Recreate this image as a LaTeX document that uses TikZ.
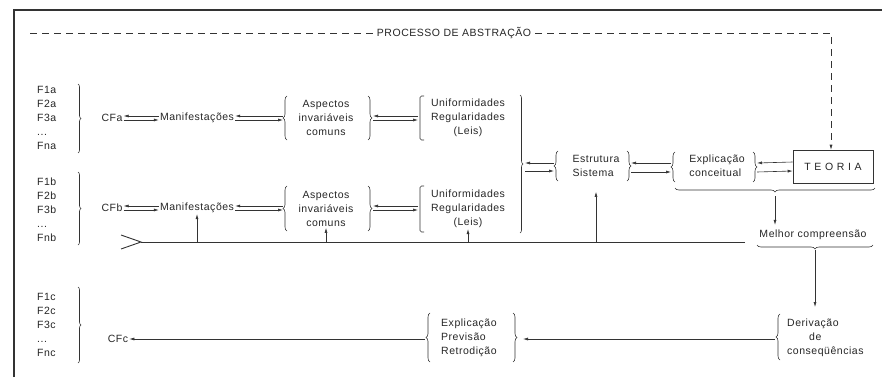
\documentclass[tikz,border=0pt]{standalone}
\usepackage{fontspec}
\setmainfont{Liberation Sans}
\newfontfamily\diagfont[LetterSpace=5]{Liberation Sans}
\newfontfamily\wideface[LetterSpace=35]{Liberation Sans}
\usetikzlibrary{arrows.meta,decorations.pathreplacing}

\tikzset{
  txt/.style={font={\diagfont\fontsize{10.5}{14}\selectfont}, text=black!85, inner sep=1pt},
  ln/.style={draw=black!80, line width=0.6pt},
  arr/.style={ln, -{Latex[length=5pt,width=3pt]}},
  brc/.style={ln, decorate, decoration={brace, amplitude=#1}},
  brc/.default=4pt,
  sqbr/.style={ln, rounded corners=1.5pt},
  abstr/.style={ln, dash pattern=on 7pt off 5pt},
}

\begin{document}
\begin{tikzpicture}[x=1pt,y=-1pt]
\useasboundingbox (0,0) rectangle (882,377);

% page frame (top and left edges)
\draw[ln, line width=1.2pt] (14,377) -- (14,10) -- (882,10);

% ---------- abstraction line ----------
\node[txt, fill=white, inner xsep=4pt] (proc) at (454,33) {PROCESSO DE ABSTRAÇÃO};
\coordinate (dstart) at (30,33);
\coordinate (dcorner) at (831,33);

% ---------- fact lists ----------
\node[txt, anchor=west, align=left] (fa) at (36,118) {F1a\\F2a\\F3a\\...\\Fna};
\node[txt, anchor=west, align=left] (fb) at (36,210) {F1b\\F2b\\F3b\\...\\Fnb};
\node[txt, anchor=west, align=left] (fc) at (36,325) {F1c\\F2c\\F3c\\...\\Fnc};
\draw[brc=3pt] (78,84) -- (78,153);
\draw[brc=3pt] (78,172) -- (78,245);
\draw[brc=3pt] (78,287) -- (78,363);

% ---------- row a ----------
\node[txt] (cfa) at (112,118) {CFa};
\node[txt] (mana) at (197,118) {Manifestações};
\node[txt, align=center] (aspa) at (326,118) {Aspectos\\invariáveis\\comuns};
\node[txt, align=center] (unia) at (468,118) {Uniformidades\\Regularidades\\(Leis)};
\draw[brc] (287,140) -- (287,96);
\draw[brc] (368,96) -- (368,140);
\draw[sqbr] (424,96) -- (420,96) -- (420,140) -- (424,140);
\coordinate (aspaL) at (283,118);
\coordinate (aspaR) at (373,118);
\coordinate (uniaL) at (418,118);

% ---------- row b ----------
\node[txt] (cfb) at (112,208) {CFb};
\node[txt] (manb) at (197,208) {Manifestações};
\node[txt, align=center] (aspb) at (326,209) {Aspectos\\invariáveis\\comuns};
\node[txt, align=center] (unib) at (468,209) {Uniformidades\\Regularidades\\(Leis)};
\draw[brc] (287,231) -- (287,186);
\draw[brc] (368,186) -- (368,231);
\draw[sqbr] (424,186) -- (420,186) -- (420,232) -- (424,232);
\coordinate (aspbL) at (283,208);
\coordinate (aspbR) at (373,208);
\coordinate (unibL) at (418,208);

% common bracket of both rows
\draw[brc=3pt] (520,95) -- (520,233);
\coordinate (bigR) at (525,167);

% ---------- structure / explanation / theory ----------
\node[txt, align=left] (est) at (596,166) {Estrutura\\Sistema};
\draw[brc] (558,181) -- (558,151);
\draw[brc] (627,151) -- (627,181);
\coordinate (estL) at (554,167);
\coordinate (estR) at (631,167.5);

\node[txt, align=left] (expc) at (717,166) {Explicação\\conceitual};
\draw[brc] (675,182) -- (675,152);
\draw[brc] (753,152) -- (753,182);
\coordinate (expcL) at (671,167.5);
\coordinate (expcR) at (757,167.5);

\node[ln, draw, minimum width=80pt, minimum height=33pt, inner sep=0pt,
      font={\wideface\fontsize{10.5}{14}\selectfont}, text=black!85] (teoria) at (833,166.5) {TEORIA};

\draw[brc] (875,188) -- (675,188);
\coordinate (ubT) at (775,193);

\node[txt] (mel) at (813,235) {Melhor compreensão};
\draw[brc] (873,245) -- (757,245);
\coordinate (melT) at (815,250);
\coordinate (derivTop) at (815,307);

% ---------- consequences ----------
\node[txt, align=left, anchor=west] (deriv) at (786,338) {Derivação\\\hspace*{22pt}de\\conseqüências};
\draw[brc] (780,360) -- (780,314);
\coordinate (derivL) at (775,339);

\node[txt, align=left, anchor=west] (expl) at (440,338) {Explicação\\Previsão\\Retrodição};
\draw[brc] (430,362) -- (430,313);
\draw[brc] (513,313) -- (513,362);
\coordinate (explL) at (425,339);
\coordinate (explR) at (523,339);

\node[txt] (cfc) at (118,339) {CFc};

% ---------- feedback line ----------
\coordinate (fbR) at (745,242);
\coordinate (fbL) at (141,242);

% ========== connectors ==========
% abstraction path to the theory
\draw[abstr] (dstart) -- (proc.west);
\draw[abstr, -{Latex[length=5pt,width=3pt]}] (proc.east) -- (dcorner) -- (dcorner |- teoria.north);

% paired arrows, row a
\draw[arr] ([yshift=2pt]mana.west) -- ([yshift=2pt]cfa.east);
\draw[arr] ([yshift=-2pt]cfa.east) -- ([yshift=-2pt]mana.west);
\draw[arr] ([yshift=2pt]aspaL) -- ([yshift=2pt]mana.east);
\draw[arr] ([yshift=-2pt]mana.east) -- ([yshift=-2pt]aspaL);
\draw[arr] ([yshift=2pt]uniaL) -- ([yshift=2pt]aspaR);
\draw[arr] ([yshift=-2pt]aspaR) -- ([yshift=-2pt]uniaL);

% paired arrows, row b
\draw[arr] ([yshift=2pt]manb.west) -- ([yshift=2pt]cfb.east);
\draw[arr] ([yshift=-2pt]cfb.east) -- ([yshift=-2pt]manb.west);
\draw[arr] ([yshift=2pt]aspbL) -- ([yshift=2pt]manb.east);
\draw[arr] ([yshift=-2pt]manb.east) -- ([yshift=-2pt]aspbL);
\draw[arr] ([yshift=2pt]unibL) -- ([yshift=2pt]aspbR);
\draw[arr] ([yshift=-2pt]aspbR) -- ([yshift=-2pt]unibL);

% paired arrows towards the theory
\draw[arr] ([yshift=4pt]estL) -- ([yshift=4pt]bigR);
\draw[arr] ([yshift=-4pt]bigR) -- ([yshift=-4pt]estL);
\draw[arr] ([yshift=4.5pt]expcL) -- ([yshift=4.5pt]estR);
\draw[arr] ([yshift=-4.5pt]estR) -- ([yshift=-4.5pt]expcL);
\draw[arr] ([yshift=4.5pt]teoria.west) -- ([yshift=4.5pt]expcR);
\draw[arr] ([yshift=-4.5pt]expcR) -- ([yshift=-4.5pt]teoria.west);

% downward flow
\draw[arr, shorten <=3pt, shorten >=4pt] (ubT) -- (ubT |- mel.north);
\draw[arr] (melT) -- (derivTop);
\draw[arr] (derivL) -- (explR);
\draw[arr] (explL) -- (cfc.east);

% feedback from better understanding
\draw[ln] (fbR) -- (fbL);
\draw[ln, line width=0.9pt] (121,235) -- (fbL) -- (121,249);
\draw[arr] (fbL -| manb.south) -- (manb.south);
\draw[arr] (fbL -| aspb.south) -- (aspb.south);
\draw[arr] (fbL -| unib.south) -- (unib.south);
\draw[arr] (fbL -| est.south) -- ([yshift=-14pt]est.south);
\end{tikzpicture}
\end{document}
